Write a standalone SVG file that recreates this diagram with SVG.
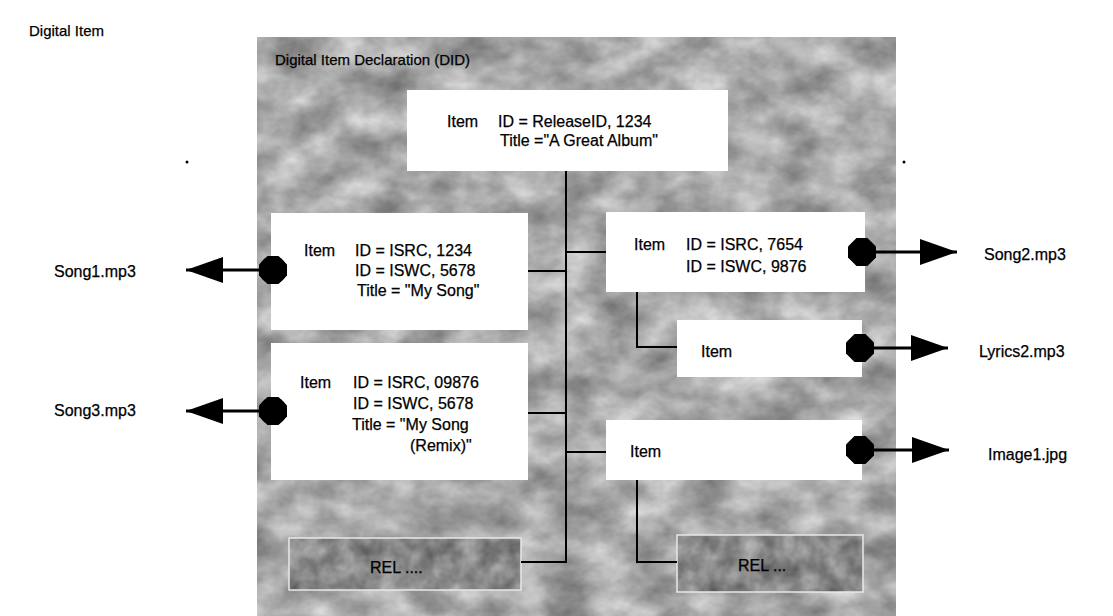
<svg xmlns="http://www.w3.org/2000/svg" width="1113" height="616" viewBox="0 0 1113 616">
<style>
text{font-family:"Liberation Sans",Arial,sans-serif;font-size:16px;fill:#000;stroke:#000;stroke-width:0.25}
.t{font-size:15px}
.box{fill:#fff}
.rel{fill:#888}
.relb{fill:none;stroke:#e8e8e8;stroke-width:1.5}
.con{fill:none;stroke:#000;stroke-width:2}
.ln{stroke:#000;stroke-width:3;fill:none;marker-start:url(#oct);marker-end:url(#tri)}
</style>
<defs>
<filter id="tex" x="0" y="0" width="100%" height="100%" color-interpolation-filters="sRGB">
<feTurbulence type="fractalNoise" baseFrequency="0.022 0.03" numOctaves="4" seed="11"/>
<feColorMatrix type="matrix" values="0.55 0 0 0 0.39  0.55 0 0 0 0.39  0.55 0 0 0 0.39  0 0 0 0 1"/>
</filter>
<filter id="tex2" x="0" y="0" width="100%" height="100%" color-interpolation-filters="sRGB">
<feTurbulence type="fractalNoise" baseFrequency="0.05" numOctaves="3" seed="4"/>
<feColorMatrix type="matrix" values="0.45 0 0 0 0.31  0.45 0 0 0 0.31  0.45 0 0 0 0.31  0 0 0 0 1"/>
</filter>
<marker id="tri" markerUnits="userSpaceOnUse" markerWidth="40" markerHeight="30" refX="37" refY="13" orient="auto" viewBox="0 0 40 30">
<path d="M0,0 L37,13 L0,26 Z" fill="#000"/>
</marker>
<marker id="oct" markerUnits="userSpaceOnUse" markerWidth="30" markerHeight="30" refX="15" refY="15" orient="auto" viewBox="0 0 30 30">
<polygon points="9.5,1 20.5,1 29,9.5 29,20.5 20.5,29 9.5,29 1,20.5 1,9.5" fill="#000"/>
</marker>
</defs>
<rect width="1113" height="616" fill="#fff"/>
<text x="29" y="36" class="t">Digital Item</text>
<g id="did">
<rect x="257" y="37" width="639" height="579" fill="#a8a8a8" filter="url(#tex)"/>
<text x="275" y="65" class="t">Digital Item Declaration (DID)</text>
</g>
<circle cx="187" cy="162" r="1.5" fill="#000"/>
<circle cx="904" cy="162" r="1.5" fill="#000"/>
<g id="item-album">
<rect class="box" x="407" y="90" width="321" height="81"/>
<text x="447" y="127">Item</text>
<text x="498" y="127">ID = ReleaseID, 1234</text>
<text x="500" y="146">Title ="A Great Album"</text>
</g>
<g id="item-song1">
<rect class="box" x="271" y="213" width="257" height="117"/>
<text x="304" y="256">Item</text>
<text x="355" y="256">ID = ISRC, 1234</text>
<text x="355" y="276">ID = ISWC, 5678</text>
<text x="357" y="296">Title = "My Song"</text>
</g>
<g id="item-song3">
<rect class="box" x="271" y="343" width="257" height="137"/>
<text x="300" y="388">Item</text>
<text x="353" y="388">ID = ISRC, 09876</text>
<text x="353" y="409">ID = ISWC, 5678</text>
<text x="352" y="430">Title = "My Song</text>
<text x="410" y="451">(Remix)"</text>
</g>
<g id="item-song2">
<rect class="box" x="606" y="212" width="259" height="80"/>
<text x="634" y="250">Item</text>
<text x="686" y="250">ID = ISRC, 7654</text>
<text x="686" y="272">ID = ISWC, 9876</text>
</g>
<g id="item-lyrics">
<rect class="box" x="677" y="320" width="185" height="57"/>
<text x="701" y="357">Item</text>
</g>
<g id="item-image">
<rect class="box" x="606" y="420" width="256" height="60"/>
<text x="630" y="457">Item</text>
</g>
<g id="rel-1">
<rect class="rel" x="289" y="538" width="232" height="52" filter="url(#tex2)"/>
<rect class="relb" x="289" y="538" width="232" height="52"/>
<text x="370" y="573">REL ....</text>
</g>
<g id="rel-2">
<rect class="rel" x="677" y="535" width="186" height="57" filter="url(#tex2)"/>
<rect class="relb" x="677" y="535" width="186" height="57"/>
<text x="738" y="571">REL ...</text>
</g>
<g id="res-song1"><text x="54" y="277">Song1.mp3</text></g>
<g id="res-song3"><text x="54" y="416">Song3.mp3</text></g>
<g id="res-song2"><text x="984" y="260">Song2.mp3</text></g>
<g id="res-lyrics2"><text x="979" y="357">Lyrics2.mp3</text></g>
<g id="res-image1"><text x="988" y="460">Image1.jpg</text></g>
<g id="connectors">
<path class="con" d="M566,171 V562 H521"/>
<path class="con" d="M528,271 H566"/>
<path class="con" d="M528,413 H566"/>
<path class="con" d="M566,252 H606"/>
<path class="con" d="M566,452 H606"/>
<path class="con" d="M637,292 V347 H677"/>
<path class="con" d="M637,480 V562 H677"/>
<line class="ln" x1="273" y1="270" x2="186" y2="270"/>
<circle cx="273" cy="270" r="14" fill="#000"/>
<line class="ln" x1="273" y1="411" x2="186" y2="411"/>
<circle cx="273" cy="411" r="14" fill="#000"/>
<line class="ln" x1="862" y1="252" x2="957" y2="252"/>
<line class="ln" x1="860" y1="348" x2="948" y2="348"/>
<line class="ln" x1="860" y1="450" x2="949" y2="450"/>
</g>
</svg>
